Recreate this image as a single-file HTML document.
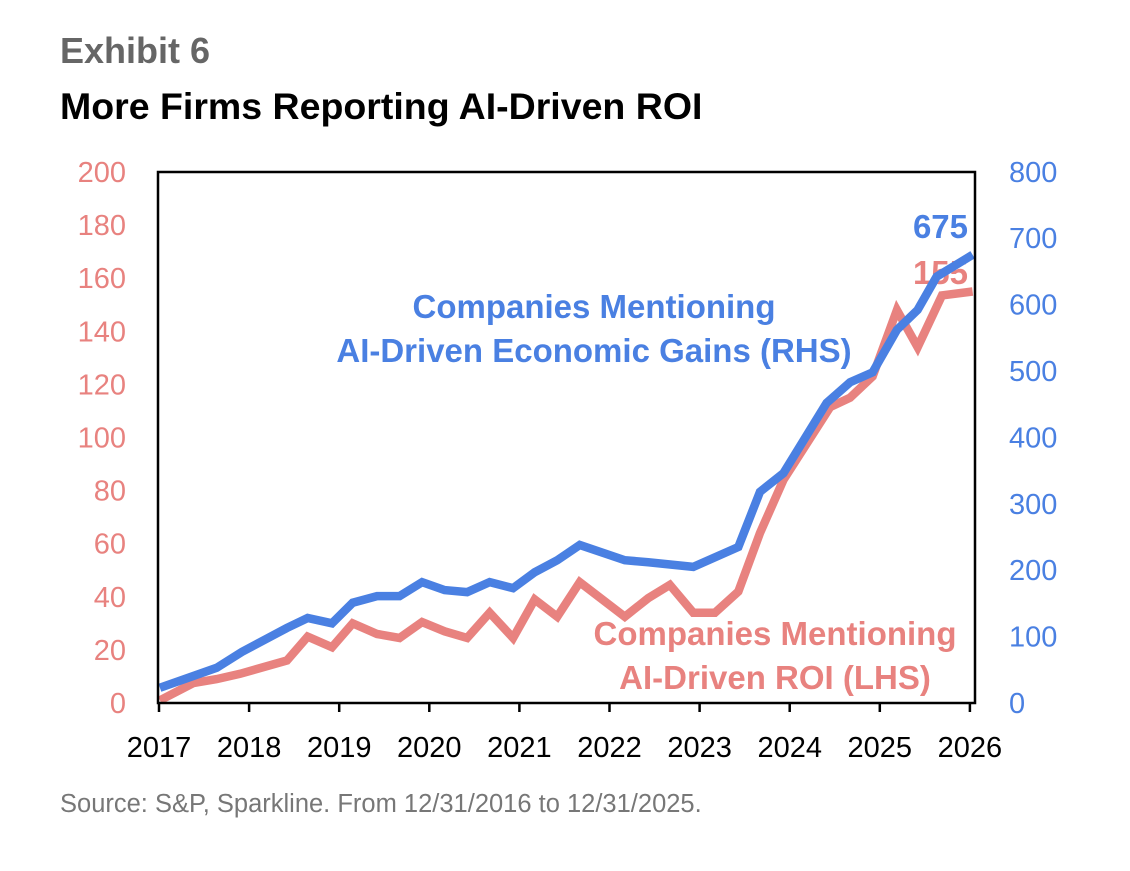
<!DOCTYPE html>
<html><head><meta charset="utf-8"><style>
body{margin:0;background:#fff;width:1130px;height:866px;overflow:hidden;font-family:"Liberation Sans",sans-serif}
</style></head><body>
<svg width="1130" height="866" xmlns="http://www.w3.org/2000/svg">
<text x="60" y="63" font-size="36" font-weight="bold" fill="#666">Exhibit 6</text>
<text x="60" y="119" font-size="37.5" font-weight="bold" fill="#000">More Firms Reporting AI-Driven ROI</text>
<g id="axes"></g>
<g id="series"></g>
<rect x="158" y="172" width="817" height="531" fill="none" stroke="#000" stroke-width="2.5"/>
<text x="594" y="318" font-size="33" font-weight="bold" fill="#4a80e2" text-anchor="middle">Companies Mentioning</text>
<text x="594" y="362" font-size="33" font-weight="bold" fill="#4a80e2" text-anchor="middle">AI-Driven Economic Gains (RHS)</text>
<text x="775" y="645" font-size="33" font-weight="bold" fill="#e8827f" text-anchor="middle">Companies Mentioning</text>
<text x="775" y="689" font-size="33" font-weight="bold" fill="#e8827f" text-anchor="middle">AI-Driven ROI (LHS)</text>
<text x="60" y="812" font-size="25.5" fill="#777">Source: S&amp;P, Sparkline. From 12/31/2016 to 12/31/2025.</text>
</svg>
<script>
const years=[2017,2018,2019,2020,2021,2022,2023,2024,2025,2026];
const leftTicks=[0,20,40,60,80,100,120,140,160,180,200];
const rightTicks=[0,100,200,300,400,500,600,700,800];
const blueDates=[2017.01,2017.64,2017.92,2018.42,2018.65,2018.92,2019.15,2019.42,2019.67,2019.92,2020.17,2020.42,2020.67,2020.93,2021.17,2021.42,2021.67,2022.17,2022.43,2022.93,2023.43,2023.67,2023.93,2024.41,2024.67,2024.92,2025.19,2025.42,2025.63,2026.03];
const blueValues=[23,53,77,113,128,120,151,161,161,182,170,167,182,173,197,215,238,215,212,205,235,318,346,452,483,498,562,592,642,675];
const redDates=[2017.01,2017.38,2017.64,2017.9,2018.42,2018.65,2018.92,2019.15,2019.42,2019.67,2019.92,2020.17,2020.42,2020.67,2020.93,2021.17,2021.42,2021.67,2022.17,2022.43,2022.67,2022.93,2023.17,2023.43,2023.67,2023.93,2024.45,2024.67,2024.92,2025.19,2025.42,2025.69,2026.03];
const redValues=[1,7.5,9,11,16,25,21,30,26,24.5,30.5,27,24.5,34,24.5,39,32.5,45.5,32.5,39.5,44.5,34,34,42,64,84,111.5,115,123,148,134,153.5,155];
const blueLast="675", redLast="155";
const NS="http://www.w3.org/2000/svg";
const x=t=>159+(t-2017)*90.1;
const yL=v=>703-v*2.655;
const yR=v=>703-v*0.664;
const axes=document.getElementById('axes'), series=document.getElementById('series');
function mk(tag,attrs,parent,txt){const e=document.createElementNS(NS,tag);for(const k in attrs)e.setAttribute(k,attrs[k]);if(txt!==undefined)e.textContent=txt;parent.appendChild(e);return e;}
years.forEach(yr=>{
  const t=mk('line',{x1:x(yr),x2:x(yr),y1:703,y2:712,stroke:'#000','stroke-width':2.5},axes);
  
  
  const l=mk('text',{x:x(yr),y:757,'font-size':29,'text-anchor':'middle',fill:'#000'},axes,yr);
  
  
});
leftTicks.forEach(v=>{
  const l=mk('text',{x:126,y:yL(v)+10,'font-size':29,'text-anchor':'end',fill:'#e8827f'},axes,v);
  
  
});
rightTicks.forEach(v=>{
  const l=mk('text',{x:1009,y:yR(v)+10,'font-size':29,'text-anchor':'start',fill:'#4a80e2'},axes,v);
  
  
});
const rl=mk('text',{x:968,y:284,'font-size':33,'font-weight':'bold','text-anchor':'end',fill:'#e8827f'},series,redLast);


const rp=mk('polyline',{points:redDates.map((d,i)=>x(d)+','+yL(redValues[i])).join(' '),fill:'none',stroke:'#e8827f','stroke-width':8.5,'stroke-linejoin':'miter'},series);


const bp=mk('polyline',{points:blueDates.map((d,i)=>x(d)+','+yR(blueValues[i])).join(' '),fill:'none',stroke:'#4a80e2','stroke-width':8.5,'stroke-linejoin':'miter'},series);


const bl=mk('text',{x:968,y:238,'font-size':33,'font-weight':'bold','text-anchor':'end',fill:'#4a80e2'},series,blueLast);


</script>
</body></html>
